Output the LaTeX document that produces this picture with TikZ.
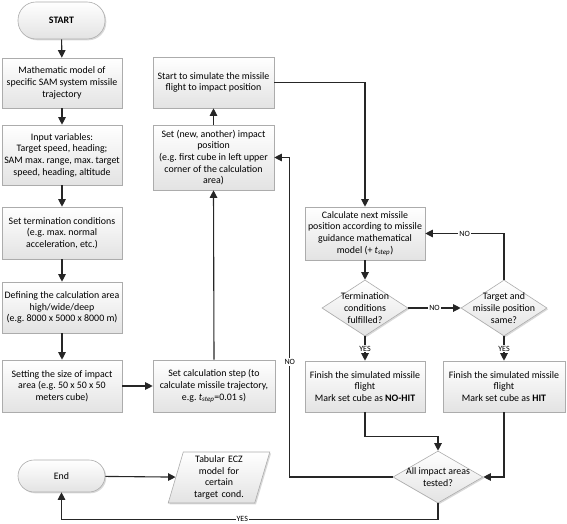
\documentclass[tikz,border=0pt]{standalone}
\usepackage{fontspec}
\setmainfont{Carlito}
\usetikzlibrary{shapes.geometric,shadows,arrows.meta}
\frenchspacing

\tikzset{
  base/.style={draw=gray!65, line width=0.6pt, top color=white, bottom color=gray!22,
    drop shadow={shadow xshift=1.3pt, shadow yshift=-1.3pt, opacity=0.3},
    align=center, inner sep=1pt, font=\fontsize{9.9}{11.7}\selectfont},
  proc/.style={base, rectangle},
  term/.style={base, rectangle, rounded corners=15pt},
  decision/.style={base, diamond, inner sep=0pt},
  iobox/.style={base, trapezium, trapezium left angle=74, trapezium right angle=106,
    trapezium stretches=true},
  flow/.style={line width=1.1pt, draw=black!85, -{Triangle[length=7.5pt,width=7.5pt]}},
  lbl/.style={fill=white, inner sep=1pt, font=\fontsize{8}{9}\selectfont},
  qtext/.style={align=center, font=\fontsize{9.9}{11.7}\selectfont}
}

\newcommand{\tstep}{\textit{t}\textsubscript{\textit{step}}}

\begin{document}
\begin{tikzpicture}[x=1pt,y=-1pt]
    \useasboundingbox (0,0) rectangle (567,524);

    % 1. Left column: preparation of the model
    \node[term, minimum width=87pt, minimum height=37pt, rounded corners=18pt] (start) at (61.5,20.5) {\textbf{START}};
    \node[proc, minimum width=120pt, minimum height=50pt] (model) at (62,83)
        {Mathematic model of\\specific SAM system missile\\trajectory};
    \node[proc, minimum width=120pt, minimum height=60pt] (input) at (62,155)
        {Input variables:\\Target speed, heading;\\SAM max. range, max. target\\speed, heading, altitude};
    \node[proc, minimum width=120pt, minimum height=52pt] (cond) at (62,233)
        {Set termination conditions\\(e.g. max. normal\\acceleration, etc.)};
    \node[proc, minimum width=120pt, minimum height=51pt] (area) at (62,307.5)
        {Defining the calculation area\\high/wide/deep\\(e.g. 8000 x 5000 x 8000 m)};
    \node[proc, minimum width=120pt, minimum height=52pt] (size) at (62,386)
        {Setting the size of impact\\area (e.g. 50 x 50 x 50\\meters cube)};

    % 2. Middle column: step and impact position
    \node[proc, minimum width=122pt, minimum height=52pt] (step) at (214,386)
        {Set calculation step (to\\calculate missile trajectory,\\e.g. \tstep=0.01 s)};
    \node[proc, minimum width=121pt, minimum height=65pt] (setimp) at (213.5,157.5)
        {Set (new, another) impact\\position\\(e.g. first cube in left upper\\corner of the calculation\\area)};
    \node[proc, minimum width=121pt, minimum height=51pt] (sim) at (213.5,82.5)
        {Start to simulate the missile\\flight to impact position};

    % 3. Right part: simulation loop
    \node[proc, minimum width=120pt, minimum height=53pt] (calc) at (365,233.5)
        {Calculate next missile\\position according to missile\\guidance mathematical\\model (+ \tstep)};
    \node[decision, minimum width=86pt, minimum height=56pt,
        label={[qtext]center:Termination\\conditions\\fulfilled?}] (termq) at (365,308) {};
    \node[decision, minimum width=86pt, minimum height=56pt,
        label={[qtext]center:Target and\\missile position\\same?}] (targq) at (504,308) {};
    \node[proc, minimum width=120pt, minimum height=51pt] (nohit) at (365,386.5)
        {Finish the simulated missile\\flight\\Mark set cube as \textbf{NO-HIT}};
    \node[proc, minimum width=122pt, minimum height=51pt] (hit) at (504,386.5)
        {Finish the simulated missile\\flight\\Mark set cube as \textbf{HIT}};
    \node[decision, minimum width=90pt, minimum height=52pt,
        label={[qtext]center:All impact areas\\tested?}] (allq) at (438,477) {};

    % 4. End and result
    \node[term, minimum width=87pt, minimum height=32pt, rounded corners=16pt] (end) at (61.5,476) {End};
    \node[iobox, text width=60pt, minimum width=102pt, minimum height=51pt] (tab) at (219,477.5)
        {Tabular ECZ\\model for\\certain\\target cond.};

    % 5. Connectors
    \draw[flow] (start) -- (model);
    \draw[flow] (model) -- (input);
    \draw[flow] (input) -- (cond);
    \draw[flow] (cond) -- (area);
    \draw[flow] (area) -- (size);
    \draw[flow] (size) -- (step);
    \draw[flow] (step.north) -- (setimp.south);
    \draw[flow] (setimp) -- (sim);
    \draw[flow] (sim.east) -| (calc.north);
    \draw[flow] (calc) -- (termq);
    \draw[flow] (termq.east) -- node[lbl] {NO} (targq.west);
    \draw[flow] (targq.north) |- node[lbl, pos=0.75] {NO} (calc.east);
    \draw[flow] (termq.south) -- node[lbl] {YES} (nohit.north);
    \draw[flow] (targq.south) -- node[lbl] {YES} (hit.north);
    \draw[flow] (nohit.south) |- ([yshift=14pt]allq.north) -- (allq.north);
    \draw[flow] (hit.south) |- (allq.east);
    \draw[flow] (allq.west) -| node[lbl, pos=0.68] {NO} ([xshift=15.5pt]setimp.east) -- (setimp.east);
    \draw[flow] (allq.south) -- ([yshift=-16pt]allq.south) -| node[lbl, pos=0.26] {YES} (end.south);
    \draw[flow] (end) -- (tab);

\end{tikzpicture}
\end{document}
